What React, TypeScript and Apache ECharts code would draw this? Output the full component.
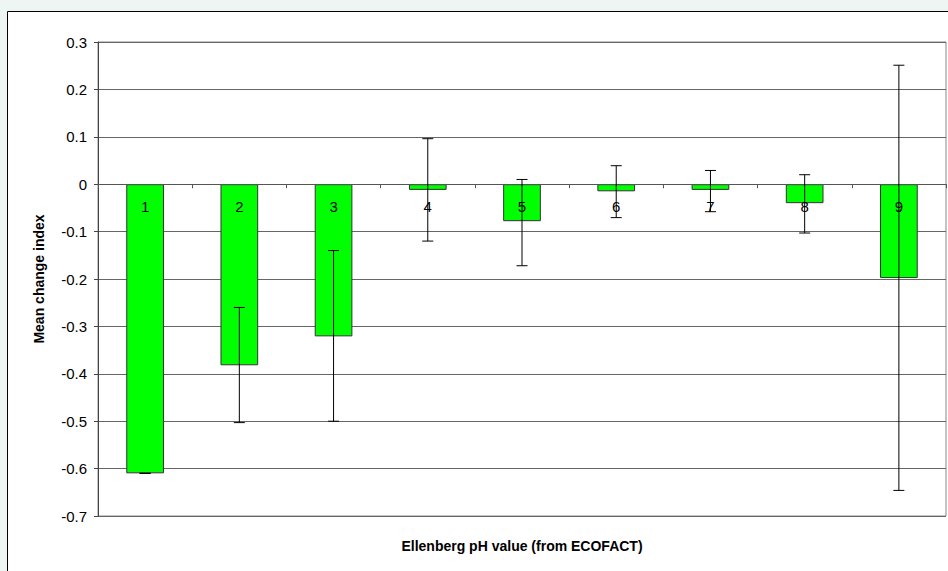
import React, { useEffect, useRef } from "react";
import * as echarts from "echarts";

const categories = ["1", "2", "3", "4", "5", "6", "7", "8", "9"];
const meanValues = [-0.61, -0.382, -0.321, -0.012, -0.078, -0.015, -0.012, -0.04, -0.198];
const errLow = [-0.61, -0.503, -0.5, -0.12, -0.172, -0.0705, -0.058, -0.103, -0.646];
const errHigh = [-0.61, -0.26, -0.14, 0.096, 0.01, 0.039, 0.029, 0.02, 0.251];
const yTicks = { min: -0.7, max: 0.3, interval: 0.1 };

const GRID_TOP = 42;
const GRID_BOTTOM = 55;
const CHART_H = 571;

export default function App() {
  const ref = useRef<HTMLDivElement>(null);
  useEffect(() => {
    if (!ref.current) return;
    const chart = echarts.init(ref.current, null, { renderer: "svg" });
    const font = "'Liberation Sans', Arial, sans-serif";
    const plotH = CHART_H - GRID_TOP - GRID_BOTTOM;
    const zeroFromBottom = (plotH * (0 - yTicks.min)) / (yTicks.max - yTicks.min);
    chart.setOption({
      animation: false,
      backgroundColor: "#EEF6F3",
      textStyle: { fontFamily: font },
      graphic: [
        {
          type: "rect",
          left: 7,
          top: 11,
          shape: { width: 960, height: 620 },
          style: { fill: "#ffffff", stroke: "#000000", lineWidth: 1 },
          z: -10,
          silent: true,
        },
        {
          type: "text",
          x: 522,
          y: 546,
          style: {
            text: "Ellenberg pH value (from ECOFACT)",
            font: `bold 14px ${font}`,
            fill: "#000",
            textAlign: "center",
            textVerticalAlign: "middle",
          },
          silent: true,
        },
      ],
      grid: {
        left: 98,
        right: 2,
        top: GRID_TOP,
        bottom: GRID_BOTTOM,
        show: true,
        borderColor: "#888",
        borderWidth: 1,
        backgroundColor: "#fff",
      },
      xAxis: {
        type: "category",
        data: categories,
        position: "bottom",
        offset: -zeroFromBottom,
        z: 10,
        axisLine: { onZero: false, lineStyle: { color: "#555", width: 1 } },
        axisTick: { show: true, alignWithLabel: false, length: 4, lineStyle: { color: "#555" } },
        axisLabel: { color: "#000", fontSize: 15, margin: 15, fontFamily: font },
        splitLine: { show: false },
      },
      yAxis: {
        type: "value",
        min: yTicks.min,
        max: yTicks.max,
        interval: yTicks.interval,
        name: "Mean change index",
        nameLocation: "middle",
        nameGap: 52,
        nameTextStyle: { fontWeight: "bold", fontSize: 14, color: "#000", fontFamily: font },
        axisLine: { show: true, lineStyle: { color: "#444", width: 1 } },
        axisTick: { show: true, length: 4, lineStyle: { color: "#444" } },
        axisLabel: {
          color: "#000",
          fontSize: 15,
          margin: 11,
          fontFamily: font,
          formatter: (v: number) => String(parseFloat(v.toFixed(1))),
        },
        splitLine: { show: true, lineStyle: { color: "#666", width: 1 } },
      },
      series: [
        {
          type: "bar",
          data: meanValues,
          barWidth: "40%",
          itemStyle: { color: "#00FF00", borderColor: "#333", borderWidth: 1 },
          z: 2,
        },
        {
          type: "custom",
          z: 20,
          data: categories.map((_, i) => [i, errLow[i], errHigh[i]]),
          renderItem: (params: any, api: any) => {
            const x = api.value(0);
            const lo = api.coord([x, api.value(1)]);
            const hi = api.coord([x, api.value(2)]);
            const half = 5.5;
            const style = { stroke: "#000", lineWidth: 1, fill: "none" };
            return {
              type: "group",
              children: [
                { type: "line", shape: { x1: lo[0], y1: lo[1], x2: hi[0], y2: hi[1] }, style },
                { type: "line", shape: { x1: lo[0] - half, y1: lo[1], x2: lo[0] + half, y2: lo[1] }, style },
                { type: "line", shape: { x1: hi[0] - half, y1: hi[1], x2: hi[0] + half, y2: hi[1] }, style },
              ],
            };
          },
        },
      ],
    });
    return () => chart.dispose();
  }, []);
  return (
    <div
      ref={ref}
      style={{ position: "fixed", left: 0, top: 0, width: 948, height: 571 }}
    />
  );
}
